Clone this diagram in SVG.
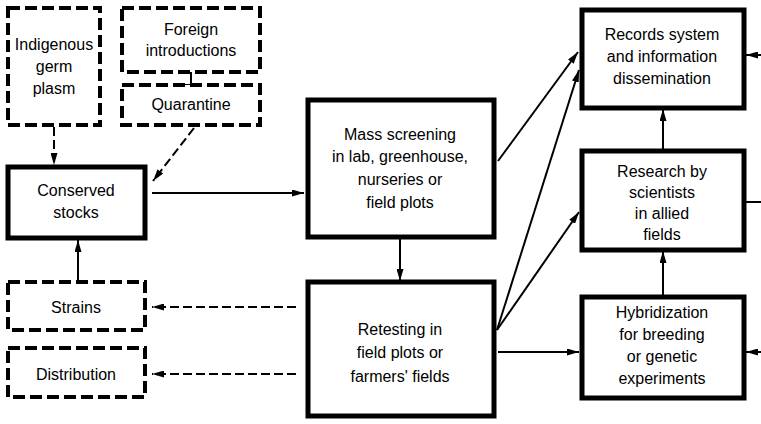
<svg xmlns="http://www.w3.org/2000/svg" width="761" height="424" viewBox="0 0 761 424">
<style>
.solid{fill:#fff;stroke:#000;stroke-width:5}
.dash{fill:#fff;stroke:#000;stroke-width:4;stroke-dasharray:12 5}
.t{font-family:"Liberation Sans",Arial,sans-serif;font-size:16px;fill:#000;text-anchor:middle}
.c{fill:none;stroke:#000;stroke-width:2}
.cd{fill:none;stroke:#000;stroke-width:2;stroke-dasharray:9 4}
</style>
<defs>
<marker id="ah" markerUnits="userSpaceOnUse" markerWidth="12" markerHeight="7" refX="12" refY="3.5" orient="auto">
<path d="M0,0 L12,3.5 L0,7 z" fill="#000"/>
</marker>
</defs>
<rect width="761" height="424" fill="#fff"/>
<g id="connectors">
<line class="cd" x1="54" y1="127" x2="54" y2="165" marker-end="url(#ah)"/>
<line class="c" x1="191" y1="72" x2="191" y2="85"/>
<line class="c" x1="184" y1="85" x2="198" y2="85"/>
<line class="cd" x1="194" y1="128" x2="153" y2="181" marker-end="url(#ah)"/>
<line class="c" x1="152" y1="193" x2="304" y2="193" marker-end="url(#ah)"/>
<line class="c" x1="78" y1="282" x2="78" y2="240" marker-end="url(#ah)"/>
<line class="cd" x1="296" y1="307" x2="152" y2="307" marker-end="url(#ah)"/>
<line class="cd" x1="296" y1="374" x2="152" y2="374" marker-end="url(#ah)"/>
<line class="c" x1="400" y1="237" x2="400" y2="281" marker-end="url(#ah)"/>
<line class="c" x1="498" y1="161" x2="578" y2="52" marker-end="url(#ah)"/>
<line class="c" x1="497" y1="330" x2="579" y2="70" marker-end="url(#ah)"/>
<line class="c" x1="497" y1="330" x2="579" y2="212" marker-end="url(#ah)"/>
<line class="c" x1="498" y1="352" x2="579" y2="352" marker-end="url(#ah)"/>
<line class="c" x1="663" y1="150" x2="663" y2="109" marker-end="url(#ah)"/>
<line class="c" x1="663" y1="297" x2="663" y2="251" marker-end="url(#ah)"/>
<line class="c" x1="761" y1="55" x2="746" y2="55" marker-end="url(#ah)"/>
<line class="c" x1="745" y1="202" x2="761" y2="202"/>
<line class="c" x1="761" y1="352" x2="746" y2="352" marker-end="url(#ah)"/>
</g>
<g id="indigenous">
<rect class="dash" x="8" y="8" width="92" height="117"/>
<text class="t" x="54" y="50">Indigenous</text>
<text class="t" x="54" y="72">germ</text>
<text class="t" x="54" y="94">plasm</text>
</g>
<g id="foreign">
<rect class="dash" x="122" y="8" width="138" height="64"/>
<text class="t" x="191" y="35">Foreign</text>
<text class="t" x="191" y="56">introductions</text>
</g>
<g id="quarantine">
<rect class="dash" x="122" y="85" width="138" height="40"/>
<text class="t" x="191" y="110">Quarantine</text>
</g>
<g id="conserved">
<rect class="solid" x="8" y="167" width="137" height="71"/>
<text class="t" x="76" y="196">Conserved</text>
<text class="t" x="76" y="218">stocks</text>
</g>
<g id="strains">
<rect class="dash" x="8" y="282" width="137" height="48"/>
<text class="t" x="76" y="313">Strains</text>
</g>
<g id="distribution">
<rect class="dash" x="8" y="348" width="137" height="49"/>
<text class="t" x="76" y="380">Distribution</text>
</g>
<g id="mass">
<rect class="solid" x="308" y="100" width="186" height="137"/>
<text class="t" x="400" y="140">Mass screening</text>
<text class="t" x="400" y="162">in lab, greenhouse,</text>
<text class="t" x="400" y="185">nurseries  or</text>
<text class="t" x="400" y="208">field  plots</text>
</g>
<g id="retesting">
<rect class="solid" x="308" y="282" width="186" height="134"/>
<text class="t" x="400" y="335">Retesting in</text>
<text class="t" x="400" y="358">field plots or</text>
<text class="t" x="400" y="382">farmers' fields</text>
</g>
<g id="records">
<rect class="solid" x="582" y="10" width="162" height="98"/>
<text class="t" x="662" y="40">Records system</text>
<text class="t" x="662" y="62">and information</text>
<text class="t" x="662" y="84">dissemination</text>
</g>
<g id="research">
<rect class="solid" x="582" y="151" width="162" height="99"/>
<text class="t" x="662" y="177">Research by</text>
<text class="t" x="662" y="198">scientists</text>
<text class="t" x="662" y="219">in allied</text>
<text class="t" x="662" y="240">fields</text>
</g>
<g id="hybridization">
<rect class="solid" x="582" y="297" width="162" height="101"/>
<text class="t" x="662" y="318">Hybridization</text>
<text class="t" x="662" y="340">for breeding</text>
<text class="t" x="662" y="362">or  genetic</text>
<text class="t" x="662" y="384">experiments</text>
</g>
</svg>
